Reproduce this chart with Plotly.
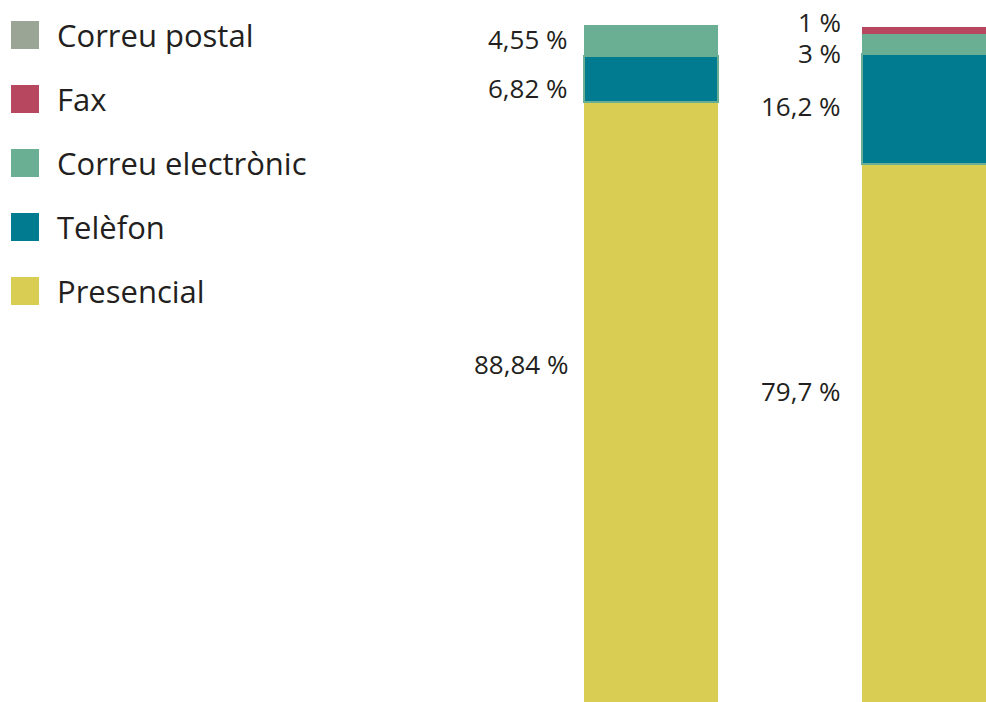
import plotly.graph_objects as go

# Data
series = ["Presencial", "Telèfon", "Correu electrònic", "Fax", "Correu postal"]
bar_positions = [0, 1]
presencial = [88.84, 79.7]
telefon = [6.82, 16.2]
correu_electronic = [4.55, 3.0]
fax = [0.0, 1.0]
correu_postal = [0.0, 0.0]
values = [presencial, telefon, correu_electronic, fax, correu_postal]
colors = {
    "Presencial": "#d9cd53",
    "Telèfon": "#007b8f",
    "Correu electrònic": "#6aae94",
    "Fax": "#b6475f",
    "Correu postal": "#9aa596",
}
# value labels: (bar, text, y position in data units)
label_bar = [0, 0, 0, 1, 1, 1, 1]
label_text = ["4,55 %", "6,82 %", "88,84 %", "1 %", "3 %", "16,2 %", "79,7 %"]
label_y = [98.1, 90.9, 50.0, 100.6, 96.1, 88.2, 46.1]
legend_order = ["Correu postal", "Fax", "Correu electrònic", "Telèfon", "Presencial"]

W, H = 986, 702
FONT = "Open Sans, sans-serif"
TXT = "#231f20"
fig = go.Figure()
for name, vals in zip(series, values):
    line = dict(width=0)
    if name == "Telèfon":
        line = dict(color=colors["Correu electrònic"], width=2)
    fig.add_trace(go.Bar(
        x=bar_positions, y=vals, name=name, width=0.482,
        marker=dict(color=colors[name], line=line),
        showlegend=False, hoverinfo="skip",
    ))

for b, t, y in zip(label_bar, label_text, label_y):
    fig.add_annotation(
        x=b, y=y, xref="x", yref="y", text=t, showarrow=False,
        xanchor="right", yanchor="middle", xshift=-(67 + (14 if b == 0 else 19)),
        font=dict(family=FONT, size=26, color=TXT),
    )

# manual legend
for i, name in enumerate(legend_order):
    top = 21 + 64 * i
    fig.add_shape(type="rect", xref="paper", yref="paper",
                  x0=11 / W, x1=39 / W, y0=1 - (top + 28) / H, y1=1 - top / H,
                  fillcolor=colors[name], line=dict(width=0))
    fig.add_annotation(
        x=55 / W, y=1 - (top + 14) / H, xref="paper", yref="paper", text=name,
        showarrow=False, xanchor="left", yanchor="middle",
        font=dict(family=FONT, size=31, color=TXT),
    )

fig.update_layout(
    barmode="stack", width=W, height=H,
    margin=dict(l=0, r=0, t=0, b=0),
    paper_bgcolor="white", plot_bgcolor="white",
    xaxis=dict(range=[-2.342, 1.205], visible=False, fixedrange=True),
    yaxis=dict(range=[0, 103.9], visible=False, fixedrange=True),
    bargap=0,
)
fig.write_html("out.html", config={"displayModeBar": False},
               post_script="document.body.style.margin='0';document.body.style.overflow='hidden';")
